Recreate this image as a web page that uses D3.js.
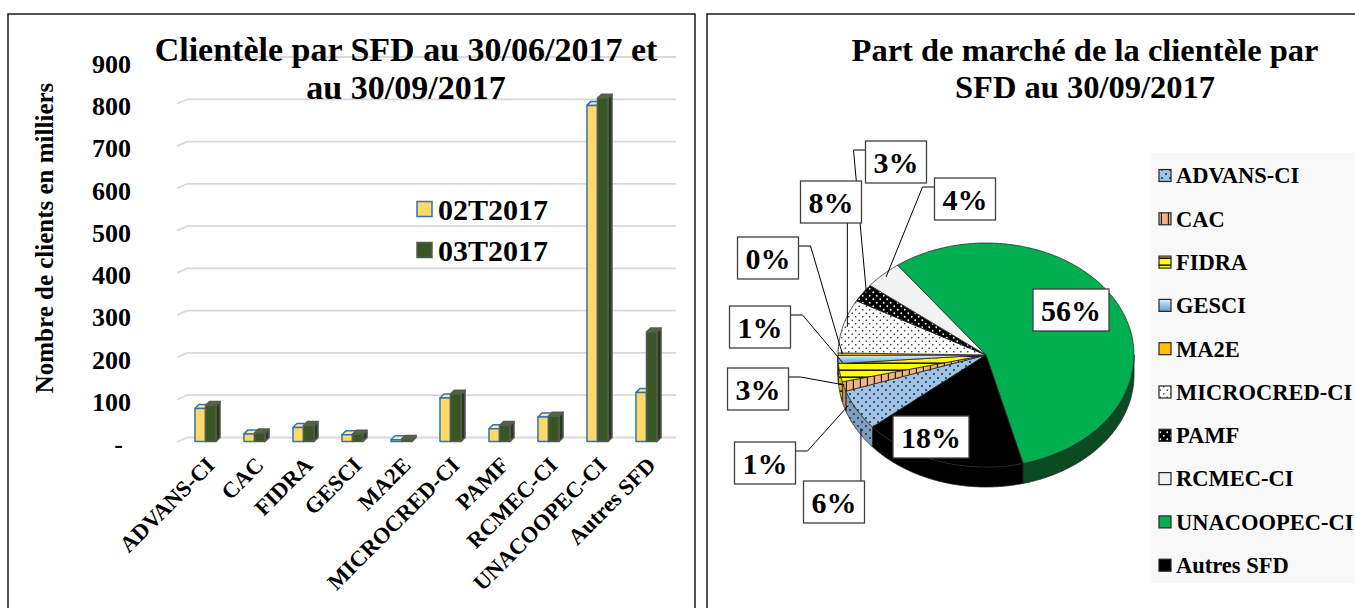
<!DOCTYPE html>
<html><head><meta charset="utf-8">
<script src="https://cdn.jsdelivr.net/npm/d3@7"></script>
<style>
body{margin:0;background:#fff}
svg{display:block}
text{font-family:"Liberation Serif","Times New Roman",serif;font-weight:bold;fill:#000}
</style>
</head><body>
<svg id="c" width="1355" height="608"></svg>
<script>
// ---------- DATA ----------
const categories = ["ADVANS-CI","CAC","FIDRA","GESCI","MA2E","MICROCRED-CI","PAMF","RCMEC-CI","UNACOOPEC-CI","Autres SFD"];
const seriesNames = ["02T2017","03T2017"];
const clients02T2017 = [78, 18, 33, 16, 4, 103, 30, 58, 795, 116];
const clients03T2017 = [85, 20, 38, 17, 5, 112, 38, 60, 812, 259];
const yTicks = [0,100,200,300,400,500,600,700,800,900];
const titleBar = ["Clientèle par SFD au 30/06/2017 et","au 30/09/2017"];
const titlePie = ["Part de marché de la clientèle par","SFD au 30/09/2017"];
const yAxisTitle = "Nombre de clients en milliers";

// ---------- SETUP ----------
const svg = d3.select("#c");
const defs = svg.append("defs");

function dotPattern(id, bg, dot, size, r){
  const p = defs.append("pattern").attr("id",id).attr("patternUnits","userSpaceOnUse")
    .attr("width",size).attr("height",size);
  p.append("rect").attr("width",size).attr("height",size).attr("fill",bg);
  p.append("circle").attr("cx",size*0.25).attr("cy",size*0.25).attr("r",r).attr("fill",dot);
  p.append("circle").attr("cx",size*0.75).attr("cy",size*0.75).attr("r",r).attr("fill",dot);
}
function stripePattern(id, bg, line, size, vertical, w){
  const p = defs.append("pattern").attr("id",id).attr("patternUnits","userSpaceOnUse")
    .attr("width",size).attr("height",size);
  p.append("rect").attr("width",size).attr("height",size).attr("fill",bg);
  if(vertical) p.append("rect").attr("x",size-w).attr("y",0).attr("width",w).attr("height",size).attr("fill",line);
  else p.append("rect").attr("x",0).attr("y",size-w).attr("width",size).attr("height",w).attr("fill",line);
}
dotPattern("advans","#9DC3E6","#1a1a1a",8,0.9);
dotPattern("advansSide","#7E9CBD","#1a1a1a",8,0.9);
stripePattern("cac","#F4B183","#1a1a1a",7,true,1.2);
stripePattern("cacSide","#C8895E","#1a1a1a",7,true,1.2);
stripePattern("fidra","#FFFF00","#1a1a1a",7,false,1.6);
stripePattern("fidraSide","#C9C900","#1a1a1a",7,false,1.6);
dotPattern("micro","#FFFFFF","#1a1a1a",7,0.8);
dotPattern("pamf","#000000","#FFFFFF",7,0.9);
const g1 = defs.append("linearGradient").attr("id","gesci").attr("x1",0).attr("y1",0).attr("x2",0).attr("y2",1);
g1.append("stop").attr("offset","0%").attr("stop-color","#E3EEF9");
g1.append("stop").attr("offset","100%").attr("stop-color","#5B9BD5");

const sliceFill = ["url(#advans)","url(#cac)","url(#fidra)","url(#gesci)","#FFC000","url(#micro)","url(#pamf)","#F2F2F2","#00B050","#000000"];
const sideFill  = ["url(#advansSide)","url(#cacSide)","url(#fidraSide)","#4A7DAE","#C49300","#BFBFBF","#000000","#C9C9C9","#0B4B22","#000000"];

// ---------- PANELS ----------
svg.append("rect").attr("x",8).attr("y",14).attr("width",687).attr("height",620)
  .attr("fill","#fff").attr("stroke","#1a1a1a").attr("stroke-width",1.5);
svg.append("rect").attr("x",707).attr("y",14).attr("width",660).attr("height",620)
  .attr("fill","#fff").attr("stroke","#1a1a1a").attr("stroke-width",1.5);

// ---------- BAR CHART ----------
const depth = 4;
const y = d3.scaleLinear().domain([0,900]).range([437.5,57]);
const x = d3.scaleBand().domain(categories).range([181,671]).paddingInner(0.57).paddingOuter(0.285);
const xs = d3.scaleBand().domain(seriesNames).range([0,x.bandwidth()]);

// gridlines (back wall + floor diagonal)
const grid = svg.append("g");
yTicks.forEach(v=>{
  const yy = y(v);
  grid.append("path").attr("d",`M177,${yy+depth+0.5}L187,${yy}L676,${yy}`)
    .attr("fill","none").attr("stroke","#D9D9D9").attr("stroke-width",1.8);
});

// y axis labels
const yAxisG = svg.append("g").attr("transform",`translate(131,${depth+3})`)
  .call(d3.axisLeft(y).tickValues(yTicks).tickSize(0).tickPadding(0)
    .tickFormat(v=> v===0 ? "-" : d3.format("d")(v)));
yAxisG.select(".domain").remove();
yAxisG.selectAll("text").attr("font-size",26).attr("font-family","Liberation Serif, serif")
  .attr("font-weight","bold").attr("fill","#000")
  .attr("dx", d=> d===0 ? -8 : 0);

// y title
svg.append("text").attr("transform","translate(53,238) rotate(-90)")
  .attr("text-anchor","middle").attr("font-size",25).text(yAxisTitle);

// bars
const seriesData = [clients02T2017, clients03T2017];
const barStyle = [
  {fill:"#FFD966", top:"#FFE699", side:"#E6B93C", stroke:"#2E75B6"},
  {fill:"#375623", top:"#4A6E32", side:"#253D17", stroke:"#595959"}
];
const barsG = svg.append("g");
seriesNames.forEach((s,si)=>{
  const st = barStyle[si];
  categories.forEach((c,ci)=>{
    const v = seriesData[si][ci];
    const x0 = x(c)+xs(s), w = xs.bandwidth();
    const yt = y(v)+depth, yb = y(0)+depth;
    const g = barsG.append("g").attr("stroke",st.stroke).attr("stroke-width",1.5).attr("stroke-linejoin","round");
    g.append("path").attr("d",`M${x0+w},${yt}L${x0+w+depth},${yt-depth}L${x0+w+depth},${yb-depth}L${x0+w},${yb}Z`).attr("fill",st.side);
    g.append("path").attr("d",`M${x0},${yt}L${x0+depth},${yt-depth}L${x0+w+depth},${yt-depth}L${x0+w},${yt}Z`).attr("fill",st.top);
    g.append("rect").attr("x",x0).attr("y",yt).attr("width",w).attr("height",Math.max(0,yb-yt)).attr("fill",st.fill);
  });
});

// x axis labels
const xAxisG = svg.append("g").attr("transform","translate(0,461)")
  .call(d3.axisBottom(x).tickSize(0).tickPadding(0));
xAxisG.select(".domain").remove();
xAxisG.selectAll("text").attr("font-size",22.5).attr("font-family","Liberation Serif, serif")
  .attr("font-weight","bold").attr("fill","#000")
  .attr("text-anchor","end").attr("x",0).attr("y",0).attr("dy","0.35em")
  .attr("transform","translate(5,0) rotate(-45)");

// title
titleBar.forEach((t,i)=>{
  svg.append("text").attr("x",406).attr("y",61+i*38).attr("text-anchor","middle")
    .attr("font-size",34).text(t);
});

// legend (bar)
const legB = svg.append("g");
seriesNames.forEach((s,i)=>{
  const cy = 209 + i*41;
  legB.append("rect").attr("x",417).attr("y",cy-7.5).attr("width",15).attr("height",15)
    .attr("fill",barStyle[i].fill).attr("stroke",barStyle[i].stroke).attr("stroke-width",1.5);
  legB.append("text").attr("x",438).attr("y",cy).attr("dy","0.35em").attr("font-size",30).text(s);
});

// ---------- PIE ----------
titlePie.forEach((t,i)=>{
  svg.append("text").attr("x",1085).attr("y",61+i*37).attr("text-anchor","middle")
    .attr("font-size",32.5).text(t);
});

const cx = 986, cy = 355, rx = 148, ry = 112, pDepth = 20;
const rad = Math.PI/180;
const P = (a, dy=0, k=1) => [cx + rx*k*Math.sin(a), cy - ry*k*Math.cos(a) + dy];
const arcPts = (a0,a1,dy=0) => {
  const n = Math.max(2, Math.ceil((a1-a0)/(0.5*rad)));
  return d3.range(n+1).map(i=>P(a0+(a1-a0)*i/n, dy));
};
const line = d3.line();
const pie = d3.pie().sort(null).startAngle(230*rad).endAngle(590*rad);
const arcs = pie(clients03T2017);
const total = d3.sum(clients03T2017);

const pieG = svg.append("g");
// sides (front half)
const frontIntervals = [[90*rad,270*rad],[450*rad,630*rad]];
arcs.forEach((a,i)=>{
  frontIntervals.forEach(([f0,f1])=>{
    const b0 = Math.max(a.startAngle,f0), b1 = Math.min(a.endAngle,f1);
    if(b1>b0){
      const pts = arcPts(b0,b1).concat(arcPts(b0,b1,pDepth).reverse());
      pieG.append("path").attr("d",line(pts)+"Z").attr("fill",sideFill[i])
        .attr("stroke","#262626").attr("stroke-width",0.8);
    }
  });
});
// tops
arcs.forEach((a,i)=>{
  const pts = [[cx,cy]].concat(arcPts(a.startAngle,a.endAngle));
  pieG.append("path").attr("d",line(pts)+"Z").attr("fill",sliceFill[i])
    .attr("stroke","#262626").attr("stroke-width",0.8).attr("stroke-linejoin","round");
});

// labels
const pieLabelLayout = {
  "ADVANS-CI":{x:834,y:502,lead:"top"},
  "CAC":{x:765,y:463,lead:"right"},
  "FIDRA":{x:758,y:389,lead:"right"},
  "GESCI":{x:760,y:327,lead:"right"},
  "MA2E":{x:768,y:258,lead:"right"},
  "MICROCRED-CI":{x:831,y:202,lead:"bottom"},
  "PAMF":{x:896,y:162,lead:"left"},
  "RCMEC-CI":{x:965,y:199,lead:"left"},
  "UNACOOPEC-CI":{x:1071,y:310,lead:"none"},
  "Autres SFD":{x:931,y:437,lead:"none"}
};
const labG = svg.append("g");
arcs.forEach((a,i)=>{
  const L = pieLabelLayout[categories[i]];
  const pct = Math.round(clients03T2017[i]/total*100) + "%";
  const g = labG.append("g");
  const box = g.append("rect");
  const t = g.append("text").attr("x",L.x).attr("y",L.y).attr("dy","0.35em")
    .attr("text-anchor","middle").attr("font-size",30).text(pct);
  const tw = t.node().getComputedTextLength();
  const bw = tw + 16, bh = 42;
  const bl = L.x - bw/2, bt = L.y - bh/2;
  box.attr("x",bl).attr("y",bt).attr("width",bw).attr("height",bh)
    .attr("fill","#fff").attr("stroke","#404040").attr("stroke-width",1.3);
  if(L.lead!=="none"){
    const m = (a.startAngle+a.endAngle)/2;
    const c = Math.cos(m);
    const off = c<0 ? pDepth*Math.min(1,-4*c) : 0;
    const an = P(m, off, 0.97);
    let pts;
    if(L.lead==="top"){ const lx = Math.min(an[0], bl+bw-1); pts=[[lx,bt],[lx,an[1]]]; }
    else if(L.lead==="bottom"){ pts=[[an[0],bt+bh],[an[0],an[1]]]; }
    else if(L.lead==="right"){ pts=[[bl+bw,bt+9],[bl+bw+12,bt+9],an]; }
    else { pts=[[bl,bt+9],[bl-12,bt+9],an]; }
    labG.insert("path",":first-child").attr("d",line(pts)).attr("fill","none")
      .attr("stroke","#000").attr("stroke-width",1);
  }
});

// legend (pie)
const legP = svg.append("g");
legP.append("rect").attr("x",1151).attr("y",153).attr("width",220).attr("height",430).attr("fill","#F8F8F8");
categories.forEach((c,i)=>{
  const yy = 175.5 + i*43.3;
  legP.append("rect").attr("x",1159).attr("y",yy-6).attr("width",12).attr("height",12)
    .attr("fill",sliceFill[i]).attr("stroke","#262626").attr("stroke-width",1.2);
  legP.append("text").attr("x",1176).attr("y",yy).attr("dy","0.35em").attr("font-size",22.5).text(c);
});
</script>
</body></html>
